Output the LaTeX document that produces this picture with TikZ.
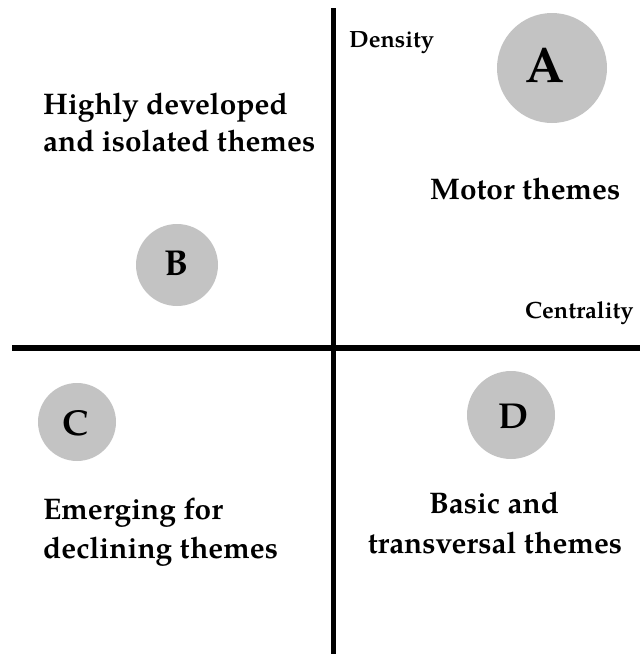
\documentclass[tikz,border=0pt]{standalone}
\usepackage{fontspec}
\setmainfont{texgyrepagella}[Extension=.otf, UprightFont=*-regular, BoldFont=*-bold]
\definecolor{bubble}{HTML}{C3C3C3}
\tikzset{
  axis/.style={line width=5.5pt, black},
  bubblenode/.style={circle, fill=bubble, inner sep=0pt},
  lbl/.style={anchor=base west, inner sep=0pt, font=\bfseries\fontsize{29.8}{36}\selectfont},
  axlbl/.style={anchor=base west, inner sep=0pt, font=\bfseries\fontsize{23.5}{26}\selectfont},
  letter/.style={anchor=base, inner sep=0pt, font=\bfseries\fontsize{36}{40}\selectfont}
}
\begin{document}
\begin{tikzpicture}[x=1pt, y=-1pt]
\useasboundingbox (0,0) rectangle (640,654);
% axes
\coordinate (vtop) at (333.5,8);
\coordinate (vbot) at (333.5,654);
\coordinate (hleft) at (12,348);
\coordinate (hright) at (640,348);
\draw[axis] (vtop) -- (vbot);
\draw[axis] (hleft) -- (hright);
% bubbles
\node[bubblenode, minimum size=110pt] (cA) at (552,68) {};
\node[bubblenode, minimum size=82pt] (cB) at (177,265) {};
\node[bubblenode, minimum size=78pt] (cC) at (77,422) {};
\node[bubblenode, minimum size=88pt] (cD) at (511,415) {};
\node[letter, font=\bfseries\fontsize{50}{54}\selectfont] (lA) at (545,82) {A};
\node[letter] (lB) at (177,275) {B};
\node[letter] (lC) at (75,435) {C};
\node[letter] (lD) at (513,428) {D};
% axis labels
\node[axlbl] (dens) at (349,47) {Density};
\node[axlbl] (cent) at (525,318) {Centrality};
% quadrant labels
\node[lbl] (q1a) at (43,114) {Highly developed};
\node[lbl] (q1b) at (43,151) {and isolated themes};
\node[lbl] (q2) at (430,199) {Motor themes};
\node[lbl] (q3a) at (43,519) {Emerging for};
\node[lbl] (q3b) at (43,558) {declining themes};
\node[lbl, anchor=base] (q4a) at (494,513) {Basic and};
\node[lbl, anchor=base] (q4b) at (495,553) {transversal themes};
\end{tikzpicture}
\end{document}
